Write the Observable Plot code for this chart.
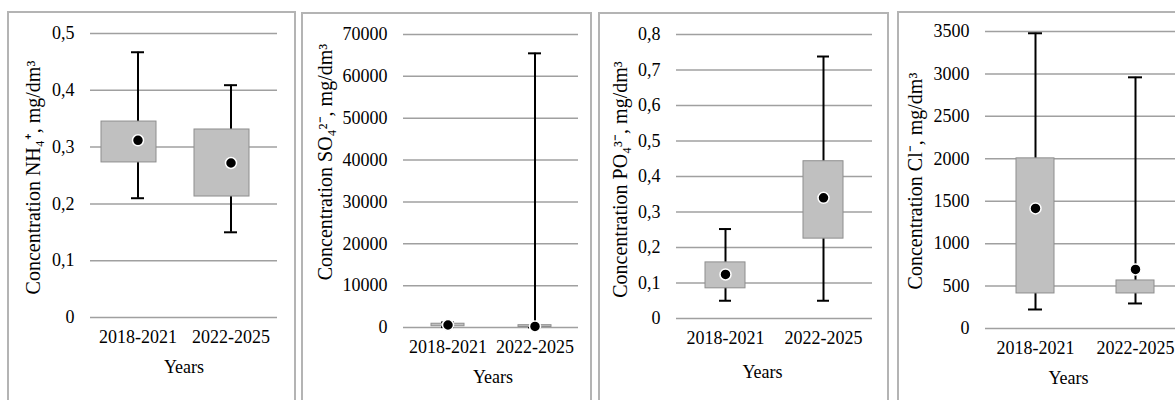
<!DOCTYPE html>
<html>
<head>
<meta charset="utf-8">
<script src="https://cdn.jsdelivr.net/npm/d3@7"></script>
<script src="https://cdn.jsdelivr.net/npm/@observablehq/plot@0.6"></script>
<style>
  html, body { margin: 0; padding: 0; background: #fff; }
  #wrap { position: relative; width: 1175px; height: 400px; overflow: hidden; background: #fff; }
  .frame { position: absolute; box-sizing: border-box; border: 2px solid #b4b4b4; height: 420px; }
  .panel { position: absolute; top: 0; }
</style>
</head>
<body>
<div id="wrap"></div>
<script>
const categories = ["2018-2021", "2022-2025"];

// NH4+
const nh4Min  = [0.21, 0.15];
const nh4Q1   = [0.273, 0.213];
const nh4Mean = [0.312, 0.272];
const nh4Q3   = [0.345, 0.331];
const nh4Max  = [0.467, 0.409];
const nh4Ticks = [0, 0.1, 0.2, 0.3, 0.4, 0.5];

// SO4 2-
const so4Min  = [100, 30];
const so4Q1   = [300, 120];
const so4Mean = [600, 250];
const so4Q3   = [900, 550];
const so4Max  = [1200, 65500];
const so4Ticks = [0, 10000, 20000, 30000, 40000, 50000, 60000, 70000];

// PO4 3-
const po4Min  = [0.05, 0.05];
const po4Q1   = [0.085, 0.225];
const po4Mean = [0.124, 0.34];
const po4Q3   = [0.158, 0.443];
const po4Max  = [0.252, 0.738];
const po4Ticks = [0, 0.1, 0.2, 0.3, 0.4, 0.5, 0.6, 0.7, 0.8];

// Cl-
const clMin  = [224, 295];
const clQ1   = [413, 413];
const clMean = [1415, 696];
const clQ3   = [2005, 566];
const clMax  = [3479, 2960];
const clTicks = [0, 500, 1000, 1500, 2000, 2500, 3000, 3500];

const yLabels = [
  "Concentration NH\u2084\u207A, mg/dm\u00B3",
  "Concentration SO\u2084\u00B2\u207B, mg/dm\u00B3",
  "Concentration PO\u2084\u00B3\u207B, mg/dm\u00B3",
  "Concentration Cl\u207B, mg/dm\u00B3"
];
const xLabel = "Years";

function rows(mn, q1, mean, q3, mx) {
  return categories.map((c, i) => ({cat: c, min: mn[i], q1: q1[i], mean: mean[i], q3: q3[i], max: mx[i]}));
}

const FONT = "'Liberation Serif', 'Times New Roman', serif";
const fmt = d => String(d).replace(".", ",");

const panels = [
  {data: rows(nh4Min, nh4Q1, nh4Mean, nh4Q3, nh4Max), ticks: nh4Ticks, label: yLabels[0],
   frame: {left: 7, top: 11, width: 289}, svgLeft: 8, width: 287,
   m: {l: 82, r: 18, t: 33, b: 83}, boxL: 10, boxR: 28, cap: 40, ylab: {dx: -57, dy: 2}, years: {dx: 0, dy: 50}},
  {data: rows(so4Min, so4Q1, so4Mean, so4Q3, so4Max), ticks: so4Ticks, label: yLabels[1],
   frame: {left: 301, top: 12, width: 291}, svgLeft: 302, width: 289,
   m: {l: 101, r: 13, t: 34, b: 73}, boxL: 27, boxR: 27, cap: 37, ylab: {dx: -78, dy: -19}, years: {dx: 2, dy: 50}},
  {data: rows(po4Min, po4Q1, po4Mean, po4Q3, po4Max), ticks: po4Ticks, label: yLabels[2],
   frame: {left: 598, top: 12, width: 291}, svgLeft: 599, width: 289,
   m: {l: 77, r: 16, t: 34, b: 82}, boxL: 29, boxR: 29, cap: 43, ylab: {dx: -56, dy: 3}, years: {dx: -12, dy: 54}},
  {data: rows(clMin, clQ1, clMean, clQ3, clMax), ticks: clTicks, label: yLabels[3],
   frame: {left: 897, top: 11, width: 300}, svgLeft: 898, width: 300,
   m: {l: 87, r: 13, t: 31, b: 72}, boxL: 31, boxR: 31, cap: 43, ylab: {dx: -70, dy: 1}, years: {dx: -17, dy: 50}}
];

const wrap = document.getElementById("wrap");

for (const p of panels) {
  const fr = document.createElement("div");
  fr.className = "frame";
  fr.style.left = p.frame.left + "px";
  fr.style.top = p.frame.top + "px";
  fr.style.width = p.frame.width + "px";
  wrap.appendChild(fr);

  const ticks = p.ticks;
  const chart = Plot.plot({
    width: p.width,
    height: 400,
    marginLeft: p.m.l,
    marginRight: p.m.r,
    marginTop: p.m.t,
    marginBottom: p.m.b,
    style: {fontFamily: FONT, fontSize: "18px", color: "#000", background: "transparent", overflow: "visible"},
    x: {type: "band", domain: categories, padding: 0, label: null},
    y: {domain: [ticks[0], ticks[ticks.length - 1]], label: null},
    marks: [
      Plot.ruleY(ticks, {stroke: "#a0a0a0", strokeWidth: 1.5}),
      Plot.axisY({ticks, tickSize: 0, tickPadding: 16, tickFormat: fmt, label: null, fontSize: 18}),
      Plot.axisX({tickSize: 0, tickPadding: 13, label: null, fontSize: 18}),
      Plot.ruleX(p.data, {x: "cat", y1: "min", y2: "max", stroke: "#000", strokeWidth: 2}),
      Plot.tickY(p.data, {x: "cat", y: "min", stroke: "#000", strokeWidth: 2, insetLeft: p.cap, insetRight: p.cap}),
      Plot.tickY(p.data, {x: "cat", y: "max", stroke: "#000", strokeWidth: 2, insetLeft: p.cap, insetRight: p.cap}),
      Plot.barY(p.data, {x: "cat", y1: "q1", y2: "q3", fill: "#c0c0c0", stroke: "#8e8e8e", strokeWidth: 1, insetLeft: p.boxL, insetRight: p.boxR}),
      Plot.dot(p.data, {x: "cat", y: "mean", r: 5.5, fill: "#000", stroke: "#fff", strokeWidth: 1.5}),
      Plot.text([p.label], {frameAnchor: "left", textAnchor: "middle", lineAnchor: "middle", rotate: -90, dx: p.ylab.dx, dy: p.ylab.dy, fontSize: 20, fill: "#000"}),
      Plot.text([xLabel], {frameAnchor: "bottom", lineAnchor: "middle", dx: p.years.dx, dy: p.years.dy, fontSize: 18, fill: "#000"})
    ]
  });
  chart.classList.add("panel");
  chart.style.position = "absolute";
  chart.style.left = p.svgLeft + "px";
  chart.style.top = "0px";
  wrap.appendChild(chart);
}
</script>
</body>
</html>
